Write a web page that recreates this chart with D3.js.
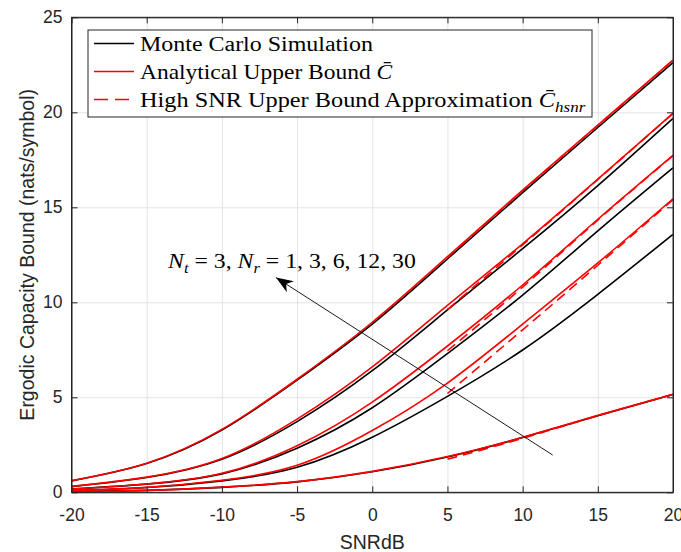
<!DOCTYPE html>
<html>
<head>
<meta charset="utf-8">
<script src="https://cdn.jsdelivr.net/npm/d3@7"></script>
<style>
  body { margin: 0; background: #fff; }
  svg { display: block; }
</style>
</head>
<body>
<svg id="chart" width="681" height="552"></svg>
<script>
// SNR grid (dB) and the high SNR approximation range
const snr = [-20, -15, -10, -5, 0, 5, 10, 15, 20];
const snrHigh = [5, 10, 15, 20];

// Monte Carlo simulation (black), one array per Nr
const mcNr1  = [0.03, 0.10, 0.26, 0.55, 1.08, 1.86, 2.88, 4.03, 5.15];
const mcNr3  = [0.09, 0.25, 0.60, 1.32, 2.9, 5.05, 7.49, 10.42, 13.58];
const mcNr6  = [0.17, 0.43, 0.97, 2.32, 4.45, 7.3, 10.38, 13.76, 17.08];
const mcNr12 = [0.30, 0.78, 1.74, 3.72, 6.4, 9.6, 12.82, 16.14, 19.68];
const mcNr30 = [0.60, 1.51, 3.27, 5.9, 8.85, 12.28, 15.77, 19.2, 22.62];

// Analytical upper bound (red solid)
const ubNr1  = [0.03, 0.10, 0.27, 0.56, 1.1, 1.88, 2.9, 4.05, 5.16];
const ubNr3  = [0.09, 0.26, 0.63, 1.42, 3.25, 5.75, 8.85, 12.07, 15.45];
const ubNr6  = [0.17, 0.44, 1.0, 2.45, 4.75, 7.7, 10.91, 14.37, 17.74];
const ubNr12 = [0.31, 0.80, 1.78, 3.85, 6.6, 9.84, 13.08, 16.48, 19.95];
const ubNr30 = [0.61, 1.53, 3.31, 5.95, 8.95, 12.4, 15.9, 19.32, 22.75];

// High SNR approximation (red dashed), from 5 dB on
const hsNr1  = [1.74, 2.84, 4.03, 5.15];
const hsNr3  = [5.2, 8.55, 11.95, 15.4];
const hsNr6  = [7.45, 10.8, 14.33, 17.72];
const hsNr12 = [9.62, 13.02, 16.46, 19.94];
const hsNr30 = [12.35, 15.87, 19.3, 22.74];

const xTicks = [-20, -15, -10, -5, 0, 5, 10, 15, 20];
const yTicks = [0, 5, 10, 15, 20, 25];

const mcSeries = [mcNr1, mcNr3, mcNr6, mcNr12, mcNr30];
const ubSeries = [ubNr1, ubNr3, ubNr6, ubNr12, ubNr30];
const hsSeries = [hsNr1, hsNr3, hsNr6, hsNr12, hsNr30];

const plotL = 71.5, plotR = 673, plotT = 17.3, plotB = 492.3;
const axisColor = "#262626";
const gridColor = "#e3e3e3";
const sans = "'Liberation Sans', Arial, sans-serif";
const serif = "'Liberation Serif', 'Times New Roman', serif";

const svg = d3.select("#chart");

const x = d3.scaleLinear().domain([-20, 20]).range([plotL, plotR]);
const y = d3.scaleLinear().domain([0, 25]).range([plotB, plotT]);

// grid
svg.append("g")
    .attr("transform", `translate(0,${plotB})`)
    .call(d3.axisBottom(x).tickValues(xTicks).tickSize(-(plotB - plotT)).tickFormat(""))
    .call(g => g.select(".domain").remove())
    .call(g => g.selectAll("line").attr("stroke", gridColor).attr("stroke-width", 1));
svg.append("g")
    .attr("transform", `translate(${plotL},0)`)
    .call(d3.axisLeft(y).tickValues(yTicks).tickSize(-(plotR - plotL)).tickFormat(""))
    .call(g => g.select(".domain").remove())
    .call(g => g.selectAll("line").attr("stroke", gridColor).attr("stroke-width", 1));

// curves
let line = d3.line()
    .x((d, i) => x(snr[i]))
    .y(d => y(d))
    .curve(d3.curveNatural);
let lineHigh = d3.line()
    .x((d, i) => x(snrHigh[i]))
    .y(d => y(d))
    .curve(d3.curveNatural);

svg.append("g").selectAll("path")
    .data(mcSeries).enter().append("path")
    .attr("d", line)
    .attr("fill", "none")
    .attr("stroke", "#000")
    .attr("stroke-width", 1.6);

svg.append("g").selectAll("path")
    .data(ubSeries).enter().append("path")
    .attr("d", line)
    .attr("fill", "none")
    .attr("stroke", "#ff0000")
    .attr("stroke-width", 1.6);

svg.append("g").selectAll("path")
    .data(hsSeries).enter().append("path")
    .attr("d", lineHigh)
    .attr("fill", "none")
    .attr("stroke", "#ff0000")
    .attr("stroke-width", 1.6)
    .attr("stroke-dasharray", "10,6");

// axes with inward ticks
let axes = svg.append("g");
let bottomAxis = axes.append("g")
    .attr("transform", `translate(0,${plotB})`)
    .call(d3.axisBottom(x).tickValues(xTicks).tickFormat(d => String(d))
        .tickSizeInner(-6).tickSizeOuter(0).tickPadding(16));
let leftAxis = axes.append("g")
    .attr("transform", `translate(${plotL},0)`)
    .call(d3.axisLeft(y).tickValues(yTicks).tickFormat(d => String(d))
        .tickSizeInner(-6).tickSizeOuter(0).tickPadding(9));
axes.append("g")
    .attr("transform", `translate(0,${plotT})`)
    .call(d3.axisTop(x).tickValues(xTicks).tickSizeInner(-6).tickSizeOuter(0).tickFormat(""));
axes.append("g")
    .attr("transform", `translate(${plotR},0)`)
    .call(d3.axisRight(y).tickValues(yTicks).tickSizeInner(-6).tickSizeOuter(0).tickFormat(""));

axes.selectAll(".tick line").attr("stroke", axisColor);
axes.selectAll(".domain").attr("stroke", axisColor);
[bottomAxis, leftAxis].forEach(a => a.selectAll("text")
    .attr("font-family", sans).attr("font-size", 17.5).attr("fill", axisColor));

axes.append("rect")
    .attr("x", plotL).attr("y", plotT)
    .attr("width", plotR - plotL).attr("height", plotB - plotT)
    .attr("fill", "none").attr("stroke", axisColor).attr("stroke-width", 1);

// axis labels
svg.append("text")
    .attr("x", (plotL + plotR) / 2).attr("y", 548.5)
    .attr("text-anchor", "middle")
    .attr("font-family", sans).attr("font-size", 19.5).attr("fill", axisColor)
    .text("SNRdB");
svg.append("text")
    .attr("transform", `translate(34,${(plotT + plotB) / 2}) rotate(-90)`)
    .attr("text-anchor", "middle")
    .attr("font-family", sans).attr("font-size", 19.5).attr("fill", axisColor)
    .text("Ergodic Capacity Bound (nats/symbol)");

// LaTeX-like text: parts with italic / subscript, stretched to the measured width
function mathText(parent, px, py, width, parts) {
    let t = parent.append("text")
        .attr("font-family", serif).attr("font-size", 20).attr("fill", "#000");
    let shift = 0;
    parts.forEach(p => {
        let s = t.append("tspan").text(p.text);
        if (p.italic) s.attr("font-style", "italic");
        let want = p.sub ? 5 : 0;
        if (want !== shift) { s.attr("dy", want - shift); shift = want; }
        if (p.sub) s.attr("font-size", 14);
    });
    let w = t.node().getBBox().width;
    t.attr("transform", `translate(${px},${py}) scale(${width / w},1)`);
    return t;
}

// legend
let legend = svg.append("g");
legend.append("rect")
    .attr("x", 88).attr("y", 30).attr("width", 504).attr("height", 87)
    .attr("fill", "#fff").attr("stroke", axisColor).attr("stroke-width", 1);

let legendRows = [
    {y: 43.5, color: "#000", dash: null, parts: [{text: "Monte Carlo Simulation"}], width: 233},
    {y: 71.5, color: "#ff0000", dash: null, parts: [{text: "Analytical Upper Bound "}, {text: "C\u0304", italic: true}], width: 253},
    {y: 99.5, color: "#ff0000", dash: "14,7", parts: [{text: "High SNR Upper Bound Approximation "}, {text: "C\u0304", italic: true}, {text: "hsnr", italic: true, sub: true}], width: 446}
];
legendRows.forEach(r => {
    let l = legend.append("line")
        .attr("x1", 94).attr("x2", 134).attr("y1", r.y).attr("y2", r.y)
        .attr("stroke", r.color).attr("stroke-width", 1.6);
    if (r.dash) l.attr("stroke-dasharray", r.dash);
    mathText(legend, 140, r.y + 7, r.width, r.parts);
});

// annotation arrow
let tail = [x(12), y(1.96)];
let tip = [x(-6.4), y(11.3)];
svg.append("line")
    .attr("x1", tail[0]).attr("y1", tail[1]).attr("x2", tip[0]).attr("y2", tip[1])
    .attr("stroke", "#000").attr("stroke-width", 0.9);
let len = Math.hypot(tail[0] - tip[0], tail[1] - tip[1]);
let ux = (tail[0] - tip[0]) / len, uy = (tail[1] - tip[1]) / len;
let nx = -uy, ny = ux;
let headLen = 17, headW = 6.5, notch = 12;
let head = [
    [tip[0], tip[1]],
    [tip[0] + ux * headLen + nx * headW, tip[1] + uy * headLen + ny * headW],
    [tip[0] + ux * notch, tip[1] + uy * notch],
    [tip[0] + ux * headLen - nx * headW, tip[1] + uy * headLen - ny * headW]
];
svg.append("path")
    .attr("d", "M" + head.map(p => p.join(",")).join("L") + "Z")
    .attr("fill", "#000");

mathText(svg, x(-13.58), y(11.8), 249, [
    {text: "N", italic: true}, {text: "t", italic: true, sub: true},
    {text: " = 3, "},
    {text: "N", italic: true}, {text: "r", italic: true, sub: true},
    {text: " = 1, 3, 6, 12, 30"}
]);
</script>
</body>
</html>
